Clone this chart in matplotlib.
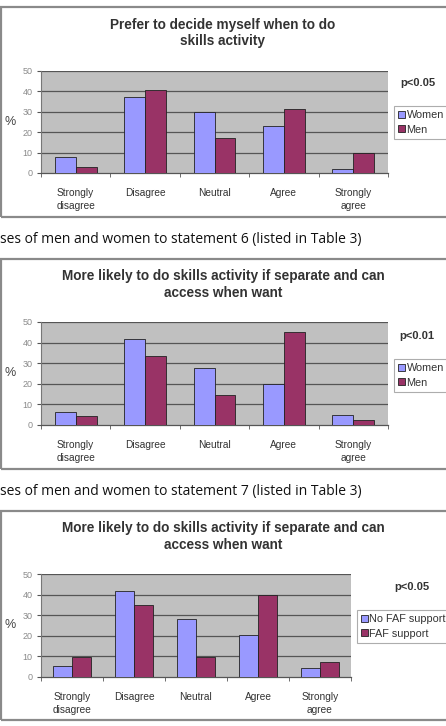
import matplotlib
matplotlib.use("Agg")
import matplotlib.pyplot as plt
from matplotlib.patches import Rectangle
import numpy as np

categories = ["Strongly\ndisagree", "Disagree", "Neutral", "Agree", "Strongly\nagree"]

title1 = "Prefer to decide myself when to do\nskills activity"
women1 = [7.6, 37.5, 29.9, 23.0, 2.1]
men1 = [2.8, 40.9, 17.0, 31.2, 9.7]
p1 = "p<0.05"
legend1 = ["Women", "Men"]

title2 = "More likely to do skills activity if separate and can\naccess when want"
women2 = [6.3, 41.7, 27.9, 19.8, 4.9]
men2 = [4.5, 33.4, 14.4, 45.3, 2.6]
p2 = "p<0.01"
legend2 = ["Women", "Men"]

title3 = "More likely to do skills activity if separate and can\naccess when want"
nofaf3 = [5.5, 41.8, 28.3, 20.4, 4.2]
faf3 = [9.6, 35.0, 9.6, 40.0, 7.3]
p3 = "p<0.05"
legend3 = ["No FAF support", "FAF support"]

caption1 = "ses of men and women to statement 6 (listed in Table 3)"
caption2 = "ses of men and women to statement 7 (listed in Table 3)"

yticks = [0, 10, 20, 30, 40, 50]

W, H = 446, 726
fig = plt.figure(figsize=(W / 100, H / 100), dpi=100)
fig.patch.set_facecolor("white")

C1 = "#9999FF"
C2 = "#993366"
FONT = "Liberation Sans"


def fx(x):
    return x / W


def fy(y):
    return 1 - y / H


def box(y0, y1):
    r = Rectangle((fx(1), fy(y1)), fx(460) - fx(1), fy(y0) - fy(y1),
                  transform=fig.transFigure, fill=False, edgecolor="#8a8a8a",
                  linewidth=1.6, clip_on=False)
    fig.add_artist(r)


def chart(box_top, box_bot, ax_l, ax_r, ax_t, ax_b, title, title_y, s1, s2, labels,
          ptxt, p_xy, leg_xy):
    box(box_top, box_bot)
    ax = fig.add_axes([fx(ax_l), fy(ax_b), fx(ax_r) - fx(ax_l), fy(ax_t) - fy(ax_b)])
    ax.set_facecolor("#C0C0C0")
    x = np.arange(len(categories))
    w = 0.3
    b1 = ax.bar(x - w / 2, s1, w, color=C1, edgecolor="#222222", linewidth=0.6,
                label=labels[0], zorder=3)
    b2 = ax.bar(x + w / 2, s2, w, color=C2, edgecolor="#222222", linewidth=0.6,
                label=labels[1], zorder=3)
    ax.set_xlim(-0.5, len(categories) - 0.5)
    ax.set_ylim(0, 50)
    ax.set_yticks(yticks)
    ax.set_yticklabels([str(v) for v in yticks], fontsize=6.5, color="#8a8a8a",
                       family=FONT)
    for v in yticks[1:]:
        ax.axhline(v, color="#555555", linewidth=0.9, zorder=1)
    ax.set_xticks(x)
    ax.set_xticklabels(categories, fontsize=7.3, color="#333333", family=FONT,
                       linespacing=1.3)
    ax.set_xticks(np.arange(-0.5, len(categories)), minor=True)
    ax.tick_params(axis="x", which="major", length=0, pad=11)
    ax.tick_params(axis="x", which="minor", length=3, color="#555555", direction="out")
    ax.tick_params(axis="y", length=3, color="#555555", direction="out", pad=3)
    for s in ["top", "right"]:
        ax.spines[s].set_visible(False)
    ax.spines["left"].set_color("#777777")
    ax.spines["bottom"].set_color("#555555")
    ax.spines["left"].set_linewidth(0.8)
    ax.spines["bottom"].set_linewidth(0.9)
    ax.set_ylabel("%", fontsize=9, color="#444444", rotation=0, family=FONT,
                  labelpad=9, va="center")
    fig.text(fx(223), fy(title_y), title, ha="center", va="center",
             fontsize=9.8, fontweight="bold", color="#333333", family=FONT,
             linespacing=1.25)
    fig.text(fx(p_xy[0]), fy(p_xy[1]), ptxt, ha="left", va="center", fontsize=8,
             fontweight="bold", color="#333333", family=FONT)
    leg = ax.legend(handles=[b1, b2], loc="upper left",
                    bbox_to_anchor=(fx(leg_xy[0]), fy(leg_xy[1])),
                    bbox_transform=fig.transFigure, fontsize=7.8, frameon=True,
                    fancybox=False, edgecolor="#999999", handlelength=0.6,
                    handleheight=0.6, handletextpad=0.15, borderpad=0.4,
                    labelspacing=0.4, borderaxespad=0)
    for t in leg.get_texts():
        t.set_family(FONT)
        t.set_color("#333333")
    leg.get_frame().set_linewidth(0.8)
    return ax


chart(7, 217, 41, 388, 71, 173, title1, 33, women1, men1, legend1, p1, (400, 83), (394, 106))
fig.text(fx(0), fy(239), caption1, ha="left", va="center", fontsize=10,
         family="Open Sans", color="#111111")
chart(259, 469, 41, 388, 322, 425, title2, 284.5, women2, men2, legend2, p2, (399, 336), (394, 359))
fig.text(fx(0), fy(492), caption2, ha="left", va="center", fontsize=10,
         family="Open Sans", color="#111111")
chart(511, 720, 41, 351, 574, 677, title3, 536.5, nofaf3, faf3, legend3, p3, (394, 587), (357, 610))

fig.savefig("out.png", dpi=100)
